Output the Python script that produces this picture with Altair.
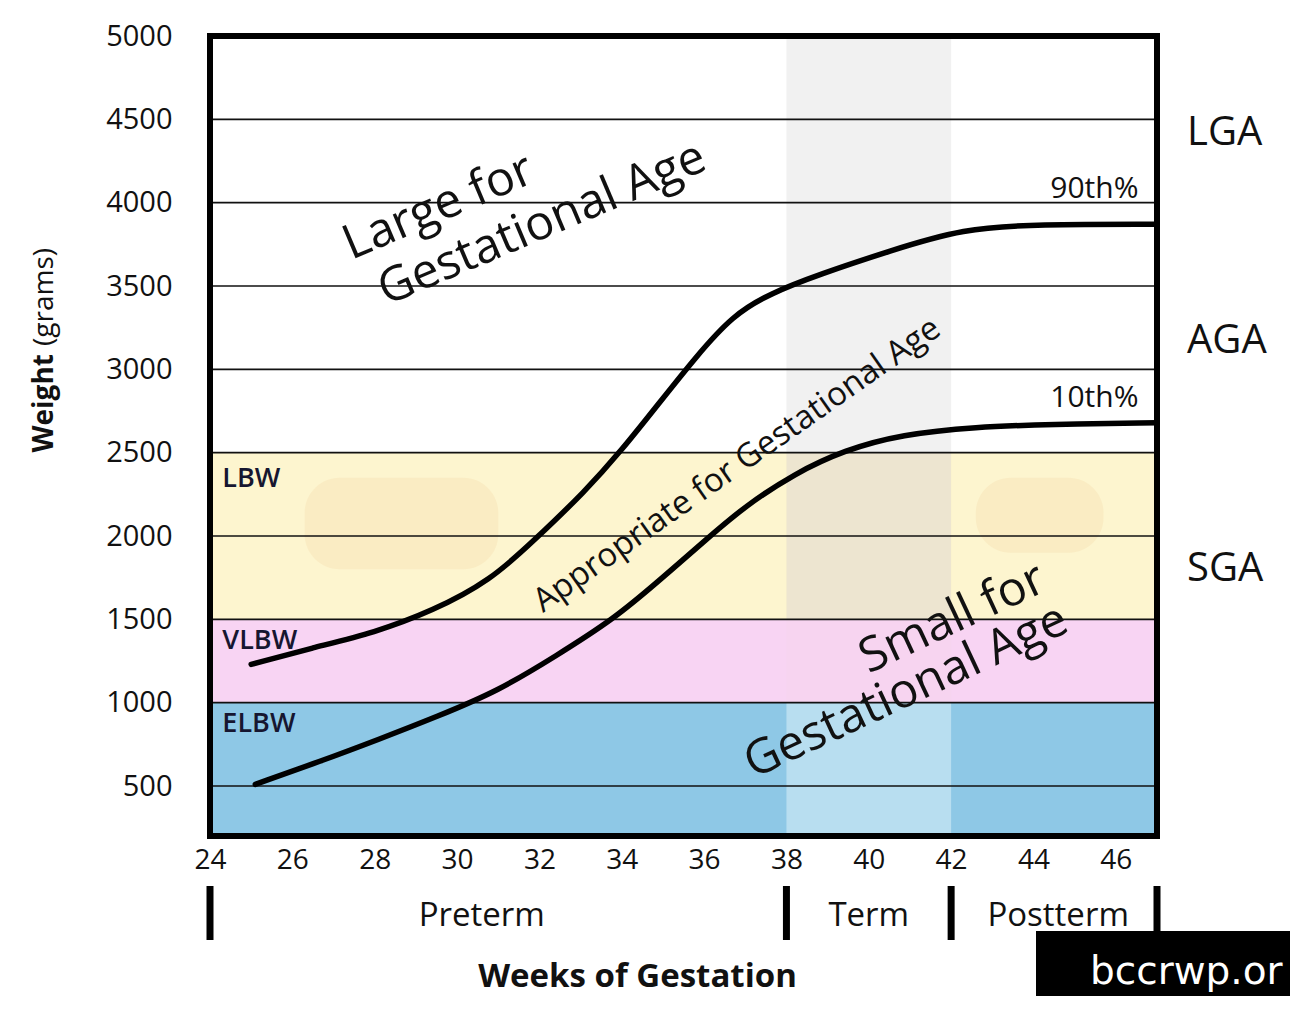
import altair as alt
import pandas as pd

W, H = 947, 800
FONT = "Open Sans"

# ---------------- data ----------------
weeks_domain = [24, 47]
grams_domain = [200, 5000]
x_ticks = [24, 26, 28, 30, 32, 34, 36, 38, 40, 42, 44, 46]
y_ticks = [500, 1000, 1500, 2000, 2500, 3000, 3500, 4000, 4500, 5000]
grid_values = [500, 1000, 1500, 2000, 2500, 3000, 3500, 4000, 4500]

band_names = ["ELBW", "VLBW", "LBW"]
band_low = [200, 1000, 1500]
band_high = [1000, 1500, 2500]
band_colors = ["#8ec8e6", "#f8d4f3", "#fdf5cf"]
band_label_y = [870, 1370, 2340]
band_label_x = [24.3, 24.3, 24.3]

term_start, term_end = 38, 42
term_low = [200, 1000, 1500, 2500]
term_high = [1000, 1500, 2500, 5000]
term_colors = ["#bde0f1", "#f6d4f0", "#ebe3cf", "#efefef"]

blob_x1 = [26.3, 42.6]
blob_x2 = [31.0, 45.7]
blob_y1 = [1800, 1900]
blob_y2 = [2350, 2350]

p90_weeks = [25.0, 26.5, 28.0, 29.4, 30.8, 31.9, 33.1, 34.0, 34.9, 35.8, 36.7, 37.6, 38.8, 40.5, 42.3, 44.1, 47.0]
p90_grams = [1230, 1330, 1420, 1550, 1730, 1980, 2265, 2515, 2795, 3075, 3325, 3455, 3570, 3710, 3845, 3870, 3870]
p10_weeks = [25.1, 26.7, 28.1, 29.5, 31.0, 32.4, 33.8, 34.9, 36.1, 37.0, 38.2, 39.4, 40.8, 42.6, 44.4, 47.0]
p10_grams = [510, 650, 780, 915, 1070, 1280, 1500, 1730, 1990, 2180, 2375, 2515, 2610, 2655, 2670, 2680]

pct_labels = ["90th%", "10th%"]
pct_label_x = [46.55, 46.55]
pct_label_y = [4080, 2830]

size_labels = ["LGA", "AGA", "SGA"]
size_label_y = [4420, 3170, 1800]

period_names = ["Preterm", "Term", "Postterm"]
period_centers = [30.6, 40.0, 44.6]
period_bounds = [24, 38, 42, 47]

large_text = ["Large for", "Gestational Age"]
large_x = [27.3, 28.15]
large_y = [3734, 3459]
aga_text = ["Appropriate for Gestational Age"]
aga_x = [36.8]
aga_y = [2426]
small_text = ["Small for", "Gestational Age"]
small_x = [39.85, 37.05]
small_y = [1250, 620]

# ---------------- scales / axes ----------------
xs = alt.Scale(domain=weeks_domain, nice=False, zero=False)
ys = alt.Scale(domain=grams_domain, nice=False, zero=False)
x_axis = alt.Axis(values=x_ticks, title="Weeks of Gestation", grid=False, ticks=False,
                  domain=False, labelFontSize=28, labelFont=FONT, labelColor="#111",
                  labelPadding=10, labelFlush=False, titleFont=FONT, titleFontSize=33,
                  titleFontWeight="bold", titleColor="#111", titlePadding=86, titleX=427)
y_axis = alt.Axis(values=y_ticks, title="", grid=False, ticks=False, domain=False, format="d",
                  labelFontSize=29, labelFont=FONT, labelColor="#111", labelPadding=38,
                  labelFlush=False)


def X(field):
    return alt.X(field, scale=xs, axis=x_axis)


def Y(field):
    return alt.Y(field, scale=ys, axis=y_axis)


# ---------------- layers ----------------
bands = pd.DataFrame({"band": band_names, "lo": band_low, "hi": band_high,
                      "c": band_colors, "x0": weeks_domain[0], "x1": weeks_domain[1]})
band_layer = alt.Chart(bands).mark_rect().encode(
    x=X("x0:Q"), x2="x1:Q", y=Y("lo:Q"), y2="hi:Q",
    color=alt.Color("c:N", scale=None),
)

blobs = pd.DataFrame({"a": blob_x1, "b": blob_x2, "lo": blob_y1, "hi": blob_y2})
blob_layer = alt.Chart(blobs).mark_rect(color="#f3d3a0", opacity=0.25, cornerRadius=35).encode(
    x=X("a:Q"), x2="b:Q", y=Y("lo:Q"), y2="hi:Q",
)

term = pd.DataFrame({"lo": term_low, "hi": term_high, "c": term_colors,
                     "a": term_start, "b": term_end})
term_layer = alt.Chart(term).mark_rect(opacity=0.9).encode(
    x=X("a:Q"), x2="b:Q", y=Y("lo:Q"), y2="hi:Q",
    color=alt.Color("c:N", scale=None),
)

grid = pd.DataFrame({"g": grid_values})
grid_layer = alt.Chart(grid).mark_rule(color="#111", strokeWidth=1.6).encode(y=Y("g:Q"))

curves = pd.DataFrame({
    "week": p90_weeks + p10_weeks,
    "grams": p90_grams + p10_grams,
    "pct": ["90th"] * len(p90_weeks) + ["10th"] * len(p10_weeks),
})
curve_layer = alt.Chart(curves).mark_line(color="black", strokeWidth=5.5,
                                          interpolate="basis", strokeCap="round").encode(
    x=X("week:Q"), y=Y("grams:Q"), detail="pct:N",
)

frame = pd.DataFrame({"a": [weeks_domain[0]], "b": [weeks_domain[1]],
                      "lo": [grams_domain[0]], "hi": [grams_domain[1]]})
frame_layer = alt.Chart(frame).mark_rect(filled=False, stroke="black", strokeWidth=6,
                                         strokeJoin="miter").encode(
    x=X("a:Q"), x2="b:Q", y=Y("lo:Q"), y2="hi:Q",
)

band_lbl = pd.DataFrame({"t": band_names, "x": band_label_x, "y": band_label_y})
band_lbl_layer = alt.Chart(band_lbl).mark_text(align="left", baseline="middle", font=FONT,
                                               fontSize=27, fontWeight=600, color="#161630").encode(
    x=X("x:Q"), y=Y("y:Q"), text="t:N")

pct_df = pd.DataFrame({"t": pct_labels, "x": pct_label_x, "y": pct_label_y})
pct_layer = alt.Chart(pct_df).mark_text(align="right", baseline="middle", font=FONT,
                                        fontSize=30, color="#111").encode(
    x=X("x:Q"), y=Y("y:Q"), text="t:N")

size_df = pd.DataFrame({"t": size_labels, "y": size_label_y})
size_layer = alt.Chart(size_df).mark_text(align="left", baseline="middle", font=FONT,
                                          fontSize=40, color="#111").encode(
    x=alt.value(W + 30), y=Y("y:Q"), text="t:N")

large_df = pd.DataFrame({"t": large_text, "x": large_x, "y": large_y})
large_layer = alt.Chart(large_df).mark_text(align="left", baseline="middle", font=FONT,
                                            fontSize=48, angle=337, color="#111").encode(
    x=X("x:Q"), y=Y("y:Q"), text="t:N")

aga_df = pd.DataFrame({"t": aga_text, "x": aga_x, "y": aga_y})
aga_layer = alt.Chart(aga_df).mark_text(align="center", baseline="middle", font=FONT,
                                        fontSize=33, angle=325, color="#111").encode(
    x=X("x:Q"), y=Y("y:Q"), text="t:N")

small_df = pd.DataFrame({"t": small_text, "x": small_x, "y": small_y})
small_layer = alt.Chart(small_df).mark_text(align="left", baseline="middle", font=FONT,
                                            fontSize=48, angle=335, color="#111").encode(
    x=X("x:Q"), y=Y("y:Q"), text="t:N")

bounds_df = pd.DataFrame({"x": period_bounds})
bounds_layer = alt.Chart(bounds_df).mark_rule(color="black", strokeWidth=7).encode(
    x=X("x:Q"), y=alt.value(H + 50), y2=alt.value(H + 104))

period_df = pd.DataFrame({"t": period_names, "x": period_centers})
period_layer = alt.Chart(period_df).mark_text(align="center", baseline="middle", font=FONT,
                                              fontSize=33, color="#111").encode(
    x=X("x:Q"), y=alt.value(H + 80), text="t:N")

ytitle_df = pd.DataFrame({"t": ["Weight", "(grams)"]})
ytitle_bold = alt.Chart(ytitle_df.iloc[[0]]).mark_text(
    align="right", baseline="middle", font=FONT, fontSize=28, fontWeight="bold",
    angle=270, color="#111").encode(x=alt.value(-165), y=alt.value(318), text="t:N")
ytitle_norm = alt.Chart(ytitle_df.iloc[[1]]).mark_text(
    align="left", baseline="middle", font=FONT, fontSize=28, angle=270,
    color="#111").encode(x=alt.value(-165), y=alt.value(310), text="t:N")

mark_df = pd.DataFrame({"t": ["bccrwp.or"]})
wm_rect = alt.Chart(mark_df).mark_rect(color="black").encode(
    x=alt.value(826), x2=alt.value(1080), y=alt.value(H + 95), y2=alt.value(H + 160))
wm_text = alt.Chart(mark_df).mark_text(align="left", baseline="middle", font="DejaVu Sans",
                                       fontSize=39, color="white").encode(
    x=alt.value(880), y=alt.value(H + 136), text="t:N")

chart = alt.layer(
    band_layer, blob_layer, term_layer, grid_layer, curve_layer, frame_layer,
    band_lbl_layer, pct_layer, size_layer, large_layer, aga_layer, small_layer,
    bounds_layer, period_layer, ytitle_bold, ytitle_norm, wm_rect, wm_text,
).properties(
    width=W, height=H, padding={"left": 23, "top": 14, "right": 0, "bottom": 0},
    background="white",
).configure_view(strokeWidth=0)

chart.save("out.html", embed_options={"renderer": "svg", "actions": False})
